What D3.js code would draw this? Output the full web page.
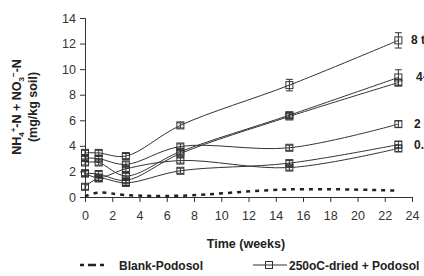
<!DOCTYPE html>
<html>
<head>
<meta charset="utf-8">
<script src="https://cdn.jsdelivr.net/npm/d3@7"></script>
<style>
  body { margin: 0; background: #fff; }
  svg { display: block; font-family: "Liberation Sans", Arial, sans-serif; }
  .tick text { fill: #333; font-size: 12.5px; }
  .bold { font-weight: bold; fill: #222; }
</style>
</head>
<body>
<svg></svg>
<script>
//Data
const weeks = [0, 1, 3, 7, 15, 23];
const blank = [0.05, 0.35, 0.15, 0.1, 0.6, 0.5];
const s8 = [3.45, 3.45, 3.2, 5.6, 8.75, 12.25];
const s4a = [2.7, 2.7, 1.65, 3.55, 6.4, 9.35];
const s4b = [1.85, 1.8, 1.3, 3.4, 6.3, 8.95];
const s2 = [3.05, 3.0, 2.55, 3.95, 3.85, 5.7];
const s05a = [1.85, 1.5, 2.2, 2.85, 2.3, 3.8];
const s05b = [0.8, 1.45, 1.1, 2.05, 2.65, 4.1];
const err8 = [0.2, 0.2, 0.2, 0.2, 0.45, 0.6];
const err4a = [0.2, 0.2, 0.2, 0.2, 0.2, 0.6];
const errSmall = [0.2, 0.2, 0.2, 0.2, 0.2, 0.25];
const xTicks = [0, 2, 4, 6, 8, 10, 12, 14, 16, 18, 20, 22, 24];
const yTicks = [0, 2, 4, 6, 8, 10, 12, 14];
const lineLabels = ["8 t/ha", "4-6 t/ha", "2 t/ha", "0.5 t/ha"];
const labelValues = [12.25, 9.35, 5.7, 4.1];

const w = 424;
const h = 276;

const chart = d3.select("svg").attr("width", w).attr("height", h);

//Scales
const xScale = d3.scaleLinear().domain([0, 24]).range([85, 412]);
const yScale = d3.scaleLinear().domain([0, 14]).range([197, 18]);

//Axes
const xAxis = d3.axisBottom(xScale).tickValues(xTicks).tickSize(5).tickPadding(9);
chart.append("g")
     .attr("transform", "translate(0, 197)")
     .call(xAxis);

const yAxis = d3.axisLeft(yScale).tickValues(yTicks).tickSize(5).tickPadding(4);
chart.append("g")
     .attr("transform", "translate(85, 0)")
     .call(yAxis);

chart.selectAll(".domain, .tick line").attr("stroke", "#333");
chart.selectAll(".tick text").attr("font-size", null);

//Lines
const line = d3.line()
               .x((d, i) => xScale(weeks[i]))
               .y((d) => yScale(d))
               .curve(d3.curveCatmullRom.alpha(0.5));

chart.append("path")
     .attr("d", line(blank))
     .attr("fill", "none")
     .attr("stroke", "#222")
     .attr("stroke-width", 2.5)
     .attr("stroke-dasharray", "4,5");

const series = [
  { v: s8, e: err8 },
  { v: s4a, e: err4a },
  { v: s4b, e: errSmall },
  { v: s2, e: errSmall },
  { v: s05a, e: errSmall },
  { v: s05b, e: errSmall }
];

series.forEach((s) => {
  chart.append("path")
       .attr("d", line(s.v))
       .attr("fill", "none")
       .attr("stroke", "#333")
       .attr("stroke-width", 1);

  const pts = chart.append("g").selectAll("g")
                   .data(s.v)
                   .enter()
                   .append("g");

  pts.append("rect")
     .attr("x", (d, i) => xScale(weeks[i]) - 3.5)
     .attr("y", (d) => yScale(d) - 3.5)
     .attr("width", 7)
     .attr("height", 7)
     .attr("fill", "none")
     .attr("stroke", "#333")
     .attr("stroke-width", 1);

  pts.append("path")
     .attr("d", (d, i) => {
       const x = xScale(weeks[i]);
       const y0 = yScale(d - s.e[i]);
       const y1 = yScale(d + s.e[i]);
       return `M${x - 3.5},${y1}H${x + 3.5}M${x},${y1}V${y0}M${x - 3.5},${y0}H${x + 3.5}`;
     })
     .attr("fill", "none")
     .attr("stroke", "#333")
     .attr("stroke-width", 1);
});

//Right side labels (cut by the edge, as in the original)
chart.append("g").selectAll("text")
     .data(lineLabels)
     .enter()
     .append("text")
     .classed("bold", true)
     .attr("x", (d, i) => i === 1 ? 416 : (i === 0 ? 411 : 414))
     .attr("y", (d, i) => yScale(labelValues[i]) + 4)
     .attr("font-size", 12)
     .text((d) => d);

//Axis titles
chart.append("text")
     .classed("bold", true)
     .attr("x", 246)
     .attr("y", 248)
     .attr("text-anchor", "middle")
     .attr("font-size", 12.5)
     .text("Time (weeks)");

const yTitle = chart.append("text")
                    .classed("bold", true)
                    .attr("transform", "translate(21, 107) rotate(-90)")
                    .attr("text-anchor", "middle")
                    .attr("font-size", 12.5);
yTitle.append("tspan").text("NH");
yTitle.append("tspan").attr("font-size", 8).attr("dy", 3).text("4");
yTitle.append("tspan").attr("font-size", 8).attr("dy", -8).text("+");
yTitle.append("tspan").attr("dy", 5).text("-N + NO");
yTitle.append("tspan").attr("font-size", 8).attr("dy", 3).text("3");
yTitle.append("tspan").attr("font-size", 8).attr("dy", -8).text("\u2212");
yTitle.append("tspan").attr("dy", 5).text("-N");

chart.append("text")
     .classed("bold", true)
     .attr("transform", "translate(37, 107) rotate(-90)")
     .attr("text-anchor", "middle")
     .attr("font-size", 12.5)
     .text("(mg/kg soil)");

//Legend
chart.append("line")
     .attr("x1", 80).attr("x2", 104)
     .attr("y1", 265).attr("y2", 265)
     .attr("stroke", "#222")
     .attr("stroke-width", 2.5)
     .attr("stroke-dasharray", "4,4,8,4,4,20");

chart.append("text")
     .classed("bold", true)
     .attr("x", 119)
     .attr("y", 269.5)
     .attr("font-size", 12)
     .text("Blank-Podosol");

chart.append("line")
     .attr("x1", 253).attr("x2", 287)
     .attr("y1", 265).attr("y2", 265)
     .attr("stroke", "#333");

chart.append("rect")
     .attr("x", 265.5).attr("y", 261.5)
     .attr("width", 7).attr("height", 7)
     .attr("fill", "white")
     .attr("stroke", "#333");

chart.append("line")
     .attr("x1", 265.5).attr("x2", 272.5)
     .attr("y1", 265).attr("y2", 265)
     .attr("stroke", "#333");

chart.append("text")
     .classed("bold", true)
     .attr("x", 289)
     .attr("y", 269.5)
     .attr("font-size", 12)
     .text("250oC-dried + Podosol");
</script>
</body>
</html>
